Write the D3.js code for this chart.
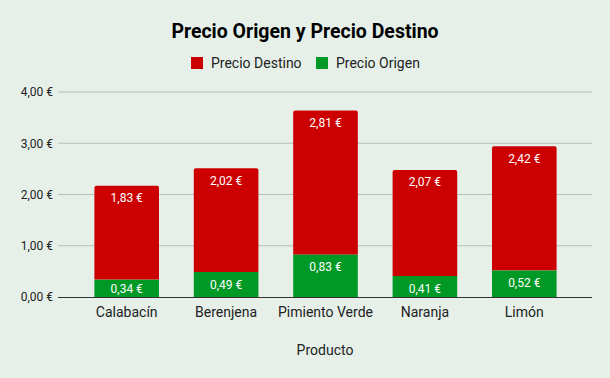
<!DOCTYPE html>
<html>
<head>
<meta charset="utf-8">
<script src="https://cdn.jsdelivr.net/npm/d3@7"></script>
<style>
  body { margin: 0; background: #e6f0e9; }
  text { font-family: Roboto, sans-serif; }
</style>
</head>
<body>
<div id="chart"></div>
<script>
const productos = ['Calabacín', 'Berenjena', 'Pimiento Verde', 'Naranja', 'Limón'];
const precioOrigen = [0.34, 0.49, 0.83, 0.41, 0.52];
const precioDestino = [1.83, 2.02, 2.81, 2.07, 2.42];
const yTicks = [0, 1, 2, 3, 4];

const width = 610;
const height = 378;
const colorDestino = '#cc0000';
const colorOrigen = '#009925';

const fmt = v => d3.format('.2f')(v).replace('.', ',') + ' €';

const svg = d3.select('#chart')
    .append('svg')
    .attr('width', width)
    .attr('height', height);

svg.append('rect')
    .attr('width', width)
    .attr('height', height)
    .attr('fill', '#e6f0e9');

// title
svg.append('text')
    .attr('x', 305)
    .attr('y', 38)
    .attr('text-anchor', 'middle')
    .attr('font-size', 19.5)
    .attr('font-weight', 'bold')
    .attr('fill', '#000')
    .text('Precio Origen y Precio Destino');

const x = d3.scaleBand()
    .domain(productos)
    .range([77, 574])
    .paddingInner(0.35)
    .paddingOuter(0.175);

const y = d3.scaleLinear()
    .domain([0, 4])
    .range([297, 92]);

// gridlines
svg.append('g')
    .selectAll('line')
    .data(yTicks.slice(1))
    .enter()
    .append('line')
    .attr('x1', 58)
    .attr('x2', 592)
    .attr('y1', d => y(d))
    .attr('y2', d => y(d))
    .attr('stroke', '#b5c0b8')
    .attr('stroke-width', 1);

// y axis labels
const yAxis = d3.axisLeft(y)
    .tickValues(yTicks)
    .tickFormat(fmt)
    .tickSize(0)
    .tickPadding(5);

svg.append('g')
    .attr('transform', 'translate(58,0)')
    .call(yAxis)
    .call(g => g.select('.domain').remove())
    .selectAll('text')
    .attr('font-size', 12)
    .attr('fill', '#222');

const rows = productos.map((p, i) => ({ producto: p, origen: precioOrigen[i], destino: precioDestino[i] }));

// origen (bottom)
svg.append('g')
    .selectAll('rect')
    .data(rows)
    .enter()
    .append('rect')
    .attr('x', d => x(d.producto))
    .attr('width', x.bandwidth())
    .attr('y', d => y(d.origen))
    .attr('height', d => y(0) - y(d.origen))
    .attr('fill', colorOrigen);

// destino (top), slightly rounded top
svg.append('g')
    .selectAll('path')
    .data(rows)
    .enter()
    .append('path')
    .attr('d', d => {
        const x0 = x(d.producto), x1 = x0 + x.bandwidth();
        const top = y(d.origen + d.destino), bot = y(d.origen);
        const r = 2;
        return `M${x0},${bot}V${top + r}Q${x0},${top} ${x0 + r},${top}H${x1 - r}Q${x1},${top} ${x1},${top + r}V${bot}Z`;
    })
    .attr('fill', colorDestino);

// value labels
svg.append('g')
    .selectAll('text')
    .data(rows)
    .enter()
    .append('text')
    .attr('x', d => x(d.producto) + x.bandwidth() / 2)
    .attr('y', d => y(d.origen + d.destino) + 16.5)
    .attr('text-anchor', 'middle')
    .attr('font-size', 12)
    .attr('fill', '#fff')
    .text(d => fmt(d.destino));

svg.append('g')
    .selectAll('text')
    .data(rows)
    .enter()
    .append('text')
    .attr('x', d => x(d.producto) + x.bandwidth() / 2)
    .attr('y', d => Math.min(y(d.origen) + 17, y(0) - 4))
    .attr('text-anchor', 'middle')
    .attr('font-size', 12)
    .attr('fill', '#fff')
    .text(d => fmt(d.origen));

// x axis
svg.append('line')
    .attr('x1', 58)
    .attr('x2', 592)
    .attr('y1', y(0) + 0.5)
    .attr('y2', y(0) + 0.5)
    .attr('stroke', '#333')
    .attr('stroke-width', 1);

const xAxis = d3.axisBottom(x).tickSize(0).tickPadding(10);
svg.append('g')
    .attr('transform', `translate(0,${y(0)})`)
    .call(xAxis)
    .call(g => g.select('.domain').remove())
    .selectAll('text')
    .attr('font-size', 14)
    .attr('fill', '#222');

svg.append('text')
    .attr('x', 325)
    .attr('y', 355)
    .attr('text-anchor', 'middle')
    .attr('font-size', 14)
    .attr('fill', '#222')
    .text('Producto');

// legend
const legendItems = [
    { label: 'Precio Destino', color: colorDestino, x: 191 },
    { label: 'Precio Origen', color: colorOrigen, x: 316 }
];
const legend = svg.append('g').attr('class', 'legend');
legendItems.forEach(item => {
    legend.append('rect')
        .attr('x', item.x)
        .attr('y', 57)
        .attr('width', 12)
        .attr('height', 12)
        .attr('fill', item.color);
    legend.append('text')
        .attr('x', item.x + 20)
        .attr('y', 68)
        .attr('font-size', 14)
        .attr('fill', '#222')
        .text(item.label);
});
</script>
</body>
</html>
